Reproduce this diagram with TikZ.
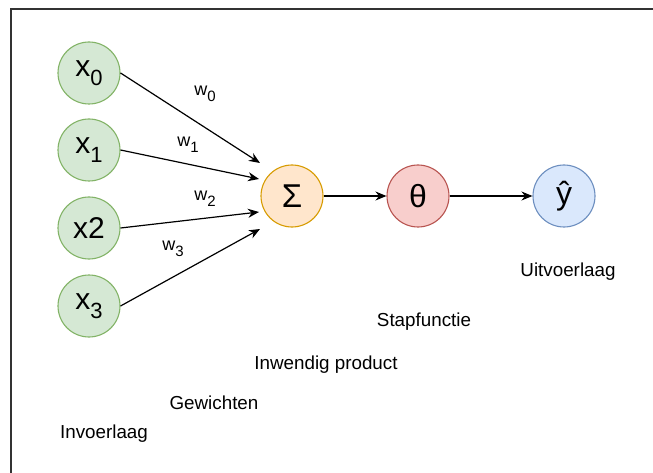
\documentclass[tikz,border=0pt]{standalone}
\usepackage{fontspec}
\setmainfont{Liberation Sans}
\usetikzlibrary{arrows.meta}
\definecolor{inputFill}{HTML}{D5E8D4}
\definecolor{inputLine}{HTML}{82B366}
\definecolor{sumFill}{HTML}{FFE6CC}
\definecolor{sumLine}{HTML}{D79B00}
\definecolor{stepFill}{HTML}{F8CECC}
\definecolor{stepLine}{HTML}{B85450}
\definecolor{outFill}{HTML}{DAE8FC}
\definecolor{outLine}{HTML}{6C8EBF}
\newcommand{\lowidx}[2]{\raisebox{-0.32em}{\fontsize{#2}{#2}\selectfont #1}}

\begin{document}
\begin{tikzpicture}[
    x=1pt, y=-1pt,
    every node/.style={align=center},
    neuron/.style={circle, draw, line width=1.1pt, minimum size=62pt, inner sep=0pt, font=\fontsize{30}{30}\selectfont},
    input neuron/.style={neuron, draw=inputLine, fill=inputFill},
    sum neuron/.style={neuron, draw=sumLine, fill=sumFill},
    step neuron/.style={neuron, draw=stepLine, fill=stepFill},
    out neuron/.style={neuron, draw=outLine, fill=outFill},
    weight label/.style={font=\fontsize{18}{18}\selectfont},
    layer label/.style={font=\fontsize{18.8}{18.8}\selectfont},
    link/.style={draw, line width=1.2pt, -{Stealth[length=11pt,width=9pt]}},
    ]
\useasboundingbox (0,0) rectangle (653,473);
\draw[line width=2pt, black!80] (11,473) -- (11,9) -- (653,9);
\node[input neuron] (x0) at (89,73) {x\lowidx{0}{22}};
\node[input neuron] (x1) at (89,150) {x\lowidx{1}{22}};
\node[input neuron] (x2) at (89,228) {x2};
\node[input neuron] (x3) at (89,306) {x\lowidx{3}{22}};
\node[sum neuron, font=\fontsize{33}{33}\selectfont] (S) at (292,196) {Σ};
\node[step neuron, font=\fontsize{32}{32}\selectfont] (theta) at (418,196) {θ};
\node[out neuron, font=\fontsize{32}{32}\selectfont] (yhat) at (564,196) {ŷ};
\coordinate (in0) at (260,163);
\coordinate (in1) at (259,179);
\coordinate (in2) at (259,212);
\coordinate (in3) at (260,229);
\draw[link] (x0.east) -- (in0);
\draw[link] (x1.east) -- (in1);
\draw[link] (x2.east) -- (in2);
\draw[link] (x3.east) -- (in3);
\draw[link] (S) -- (theta);
\draw[link] (theta) -- (yhat);
\node[weight label] (w0) at (205,94) {w\lowidx{0}{15}};
\node[weight label] (w1) at (188,145) {w\lowidx{1}{15}};
\node[weight label] (w2) at (205,199) {w\lowidx{2}{15}};
\node[weight label] (w3) at (173,249) {w\lowidx{3}{15}};
\node[layer label] (outLayer) at (568,272) {Uitvoerlaag};
\node[layer label] (stepFn) at (424,322) {Stapfunctie};
\node[layer label] (dotProd) at (326,365) {Inwendig product};
\node[layer label] (weights) at (214,403) {Gewichten};
\node[layer label] (inLayer) at (104,434) {Invoerlaag};
\end{tikzpicture}
\end{document}
